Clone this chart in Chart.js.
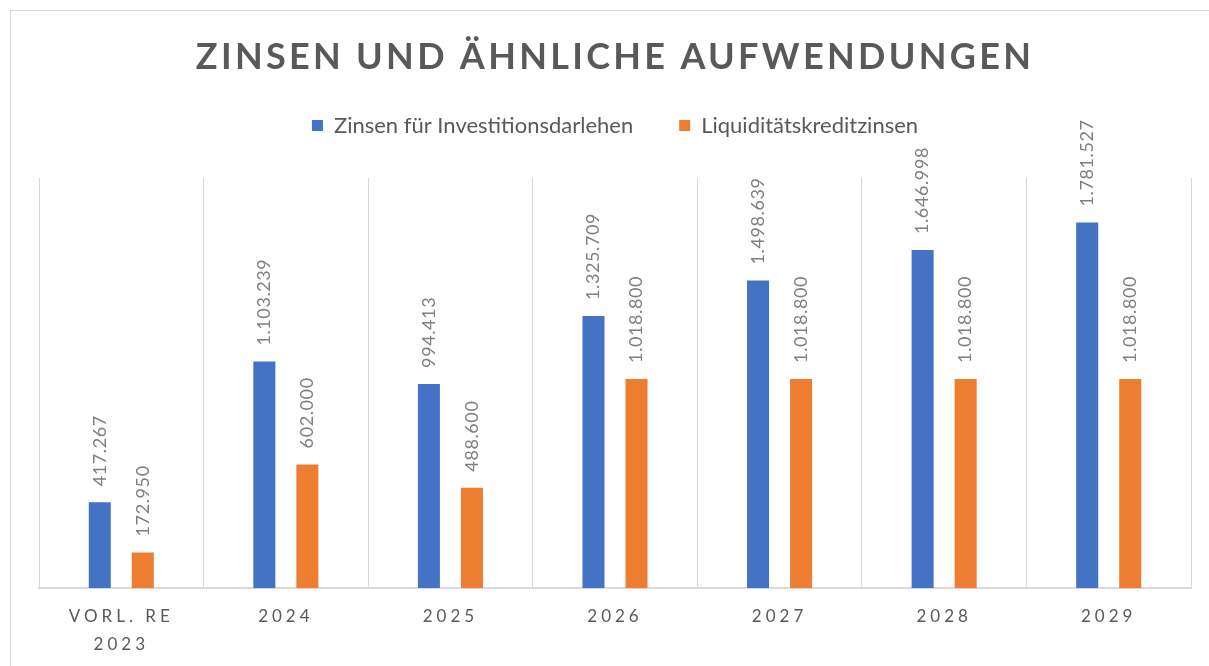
<!DOCTYPE html>
<html>
<head>
<meta charset="utf-8">
<script src="https://cdn.jsdelivr.net/npm/chart.js@4.4.1/dist/chart.umd.min.js"></script>
<style>
html,body{margin:0;padding:0;background:#fff;}
#wrap{position:absolute;left:0;top:0;width:1209px;height:666px;}
</style>
</head>
<body>
<div id="wrap"><canvas id="c" width="1209" height="666"></canvas></div>
<script>
const categories = [['VORL. RE', '2023'], '2024', '2025', '2026', '2027', '2028', '2029'];
const seriesNames = ['Zinsen für Investitionsdarlehen', 'Liquiditätskreditzinsen'];
const investitionsZinsen = [417267, 1103239, 994413, 1325709, 1498639, 1646998, 1781527];
const liquiditaetsZinsen = [172950, 602000, 488600, 1018800, 1018800, 1018800, 1018800];
const titleText = 'ZINSEN UND ÄHNLICHE AUFWENDUNGEN';

function fmt(n){ return String(n).replace(/\B(?=(\d{3})+(?!\d))/g, '.'); }

const LEGEND_EXTRA = 31;

const framePlugin = {
  id: 'frame',
  beforeUpdate(chart){
    const lg = chart.legend;
    if (lg && !lg.$w){
      const of = lg.fit.bind(lg);
      lg.fit = function(){ of(); if (this.options.display) this.height += LEGEND_EXTRA; };
      lg.$w = true;
    }
  },
  beforeDraw(chart){
    const ctx = chart.ctx;
    ctx.save();
    ctx.fillStyle = '#fff';
    ctx.fillRect(0, 0, chart.width, chart.height);
    ctx.strokeStyle = '#d9d9d9';
    ctx.lineWidth = 1;
    ctx.strokeRect(10.5, 10.5, 1400, 1000);
    ctx.restore();
    const tb = chart.titleBlock;
    if (tb && !tb.$ls){
      const od = tb.draw.bind(tb);
      tb.draw = function(a){ ctx.save(); ctx.letterSpacing = '3.3px'; od(a); ctx.restore(); };
      tb.$ls = true;
    }
    const sx = chart.scales.x;
    if (sx && !sx.$ls){
      const od = sx.drawLabels.bind(sx);
      sx.drawLabels = function(a){ ctx.save(); ctx.letterSpacing = '4px'; od(a); ctx.restore(); };
      sx.$ls = true;
    }
  }
};

const labelPlugin = {
  id: 'vlabels',
  afterDatasetsDraw(chart){
    const ctx = chart.ctx;
    ctx.save();
    ctx.font = '18px Lato';
    ctx.fillStyle = '#7f7f7f';
    ctx.letterSpacing = '0.6px';
    ctx.textAlign = 'left';
    ctx.textBaseline = 'middle';
    chart.data.datasets.forEach((ds, di) => {
      const meta = chart.getDatasetMeta(di);
      meta.data.forEach((el, i) => {
        ctx.save();
        ctx.translate(el.x, el.y - 16);
        ctx.rotate(-Math.PI / 2);
        ctx.fillText(fmt(ds.data[i]), 0, 0);
        ctx.restore();
      });
    });
    ctx.restore();
  }
};

new Chart(document.getElementById('c'), {
  type: 'bar',
  data: {
    labels: categories,
    datasets: [
      { label: seriesNames[0], data: investitionsZinsen, backgroundColor: '#4472C4', categoryPercentage: 0.523, barPercentage: 0.512 },
      { label: seriesNames[1], data: liquiditaetsZinsen, backgroundColor: '#ED7D31', categoryPercentage: 0.523, barPercentage: 0.512 }
    ]
  },
  options: {
    responsive: false,
    animation: false,
    devicePixelRatio: 1,
    layout: { padding: { left: 39, right: 18, top: 0, bottom: -8 } },
    plugins: {
      title: {
        display: true,
        text: titleText,
        color: '#595959',
        font: { family: 'Lato', size: 36, weight: 'bold', lineHeight: 0.6 },
        padding: { top: 47, bottom: 0 }
      },
      legend: {
        display: true,
        labels: {
          color: '#595959',
          font: { family: 'Lato', size: 22 },
          boxWidth: 11,
          boxHeight: 11,
          padding: 46
        }
      },
      tooltip: { enabled: false }
    },
    scales: {
      x: {
        grid: { display: true, color: '#d9d9d9', lineWidth: 1, drawTicks: false, offset: true },
        border: { display: true, color: '#d9d9d9', width: 2 },
        ticks: { color: '#595959', font: { family: 'Lato', size: 17, lineHeight: 1.65 }, padding: 15, maxRotation: 0, autoSkip: false }
      },
      y: {
        display: false,
        min: 0,
        max: 2000000
      }
    }
  },
  plugins: [framePlugin, labelPlugin]
});
</script>
</body>
</html>
